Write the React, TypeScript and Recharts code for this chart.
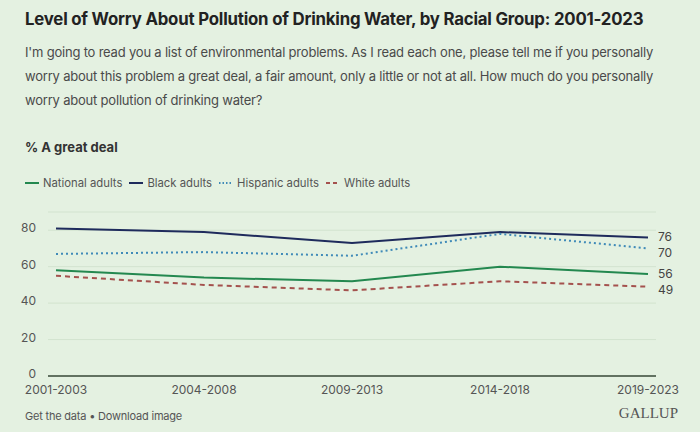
import React from "react";
import { LineChart, Line, XAxis, YAxis, CartesianGrid } from "recharts";

const categories = ["2001-2003", "2004-2008", "2009-2013", "2014-2018", "2019-2023"];
const national = [58, 54, 52, 60, 56];
const black = [81, 79, 73, 79, 76];
const hispanic = [67, 68, 66, 78, 70];
const white = [55, 50, 47, 52, 49];
const yTicks = [0, 20, 40, 60, 80];

const data = categories.map((c, i) => ({
  period: c,
  national: national[i],
  black: black[i],
  hispanic: hispanic[i],
  white: white[i],
}));

const FONT = "Inter, Roboto, 'Noto Sans', sans-serif";
const BG = "#e4f1e1";

const makeEndLabel = (shift: number) => (props: any) => {
  const { x, y, index, value } = props;
  if (index !== categories.length - 1) return null;
  return (
    <text x={x + 10} y={y + shift} dy={4} fontSize={12} fill="#444" fontFamily={FONT}>
      {value}
    </text>
  );
};

const series = [
  { key: "national", label: "National adults", color: "#23884f", dash: undefined, shift: 0 },
  { key: "black", label: "Black adults", color: "#1e2b5c", dash: undefined, shift: -1 },
  { key: "hispanic", label: "Hispanic adults", color: "#3f8ab8", dash: "2 3", shift: 5 },
  { key: "white", label: "White adults", color: "#a4524e", dash: "5 4", shift: 3 },
];

export default function App() {
  return (
    <div
      style={{
        position: "absolute",
        left: 0,
        top: 0,
        width: 700,
        height: 432,
        background: BG,
        fontFamily: FONT,
        overflow: "hidden",
      }}
    >
      <div style={{ position: "absolute", left: 25, top: 9, fontSize: 16.8, fontWeight: 700, color: "#222", letterSpacing: -0.2 }}>
        Level of Worry About Pollution of Drinking Water, by Racial Group: 2001-2023
      </div>
      <div style={{ position: "absolute", left: 25, top: 40, width: 660, fontSize: 13, lineHeight: "24px", color: "#4a4a4a", letterSpacing: -0.2 }}>
        I'm going to read you a list of environmental problems. As I read each one, please tell me if you personally worry about this problem a great deal, a fair amount, only a little or not at all. How much do you personally worry about pollution of drinking water?
      </div>
      <div style={{ position: "absolute", left: 25, top: 139, fontSize: 13, fontWeight: 700, color: "#333" }}>
        % A great deal
      </div>
      <div style={{ position: "absolute", left: 25, top: 176, fontSize: 11.3, color: "#555", display: "flex", gap: 7 }}>
        {series.map((s) => (
          <div key={s.key} style={{ display: "flex", alignItems: "center", gap: 4 }}>
            <svg width={14} height={4}>
              <line x1={0} y1={2} x2={14} y2={2} stroke={s.color} strokeWidth={2} strokeDasharray={s.key === "hispanic" ? "1.5 2" : s.dash ? "4 3" : undefined} />
            </svg>
            <span>{s.label}</span>
          </div>
        ))}
      </div>
      <div style={{ position: "absolute", left: 0, top: 200 }}>
        <LineChart width={700} height={200} data={data} margin={{ top: 12, right: 44, left: 0, bottom: 0 }}>
          <CartesianGrid vertical={false} stroke="#d2e3cf" />
          <XAxis
            dataKey="period"
            height={24}
            padding={{ left: 8, right: 8 }}
            tickLine={false}
            axisLine={{ stroke: "#3a4a3a", strokeWidth: 1.5 }}
            tick={{ fontSize: 12, fill: "#555", fontFamily: FONT }}
            tickMargin={3}
            interval={0}
          />
          <YAxis
            width={48}
            domain={[0, 90]}
            ticks={yTicks}
            tickLine={false}
            axisLine={false}
            tick={{ fontSize: 12, fill: "#555", fontFamily: FONT, dy: -2 }}
            tickMargin={6}
          />
          {series.map((s) => (
            <Line
              key={s.key}
              dataKey={s.key}
              stroke={s.color}
              strokeWidth={2}
              strokeDasharray={s.dash}
              dot={false}
              activeDot={false}
              isAnimationActive={false}
              label={makeEndLabel(s.shift)}
            />
          ))}
        </LineChart>
      </div>
      <div style={{ position: "absolute", left: 25, top: 409, fontSize: 11, color: "#555", letterSpacing: -0.2 }}>
        Get the data • Download image
      </div>
      <div style={{ position: "absolute", right: 22, top: 405, fontSize: 15, color: "#555", fontFamily: "'Liberation Serif', 'DejaVu Serif', serif" }}>
        GALLUP
      </div>
    </div>
  );
}
